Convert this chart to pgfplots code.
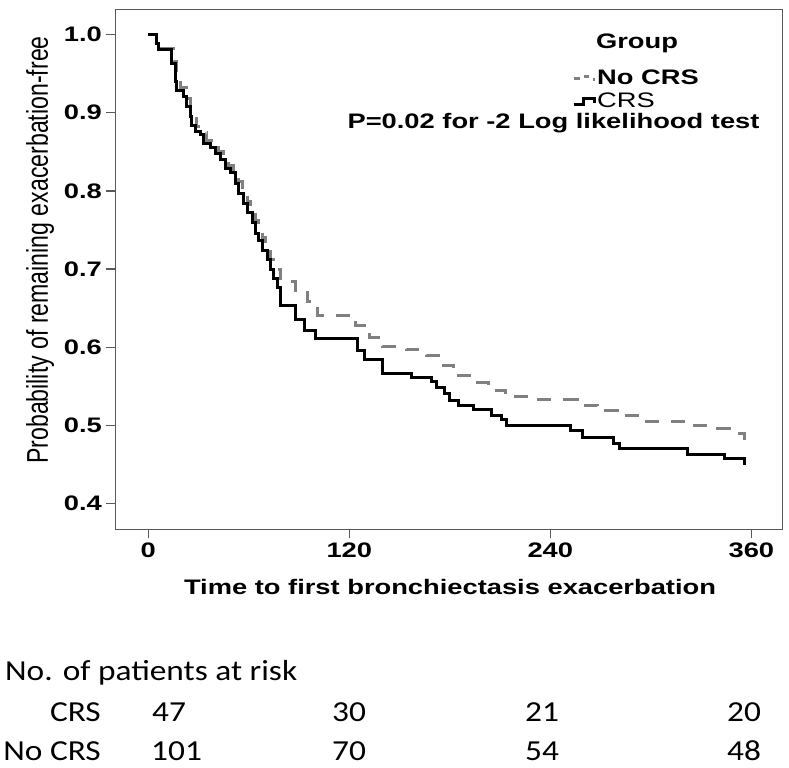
\documentclass[border=0pt]{standalone}
\usepackage{fontspec}
\setmainfont{Liberation Sans}[FakeStretch=1.3]
\newfontfamily\calib{Carlito}[FakeStretch=1.15]
\newfontfamily\ylabfont{Liberation Sans}[FakeStretch=0.77]
\usepackage{pgfplots}
\usepackage{pgfplotstable}
\pgfplotsset{compat=1.18}

\pgfplotstableread{
t S
0 1.000
5 0.989
6 0.981
14 0.963
16 0.940
17 0.929
21 0.921
23 0.908
25 0.895
26 0.884
28 0.876
31 0.872
33 0.861
37 0.855
40 0.848
43 0.840
46 0.829
49 0.823
52 0.810
54 0.797
57 0.784
59 0.773
62 0.759
64 0.746
66 0.737
68 0.724
71 0.712
73 0.699
75 0.688
77 0.677
79 0.654
88 0.635
93 0.622
100 0.611
125 0.596
129 0.584
140 0.567
157 0.561
169 0.556
172 0.549
177 0.541
180 0.532
185 0.526
194 0.520
205 0.512
211 0.507
214 0.500
252 0.494
259 0.485
278 0.477
281 0.471
322 0.463
344 0.457
356 0.451
357 0.451
}\crsdata

\pgfplotstableread{
t S
0 1.000
5 0.990
7 0.982
15 0.965
17 0.945
19 0.932
23 0.918
25 0.905
27 0.893
29 0.882
32 0.875
35 0.865
39 0.858
42 0.850
45 0.842
48 0.832
51 0.825
54 0.812
56 0.800
59 0.787
61 0.776
64 0.762
66 0.750
68 0.740
70 0.728
73 0.712
76 0.700
79 0.684
88 0.673
95 0.658
101 0.641
124 0.628
132 0.613
140 0.601
154 0.597
166 0.590
175 0.577
182 0.564
192 0.555
203 0.545
213 0.537
228 0.533
256 0.526
268 0.519
280 0.512
292 0.505
322 0.500
335 0.496
347 0.490
356 0.483
358 0.483
}\nocrsdata

\begin{document}
\begin{tikzpicture}[x=1bp,y=1bp]
\useasboundingbox (-115.4,-238.6) rectangle (673.6,529.4);
\begin{axis}[
  scale only axis, width=667.1bp, height=520.1bp,
  at={(0,0)}, anchor=south west,
  xmin=-19.6, xmax=378.6, ymin=0.3669, ymax=1.0324,
  xtick={0,120,240,360},
  ytick={0.4,0.5,0.6,0.7,0.8,0.9,1.0},
  yticklabel style={/pgf/number format/fixed,/pgf/number format/precision=1,/pgf/number format/fixed zerofill},
  /pgf/number format/assume math mode=true,
  axis line style={draw=black!65, line width=1.3bp},
  tick style={draw=black!65, line width=1.3bp},
  tick align=outside, major tick length=9bp,
  xtick pos=bottom, ytick pos=left,
  ticklabel style={font=\fontsize{21bp}{24bp}\selectfont\bfseries, text=black},
  xticklabel style={yshift=-1bp},
  yticklabel style={xshift=-1bp},
  clip=false,
  xlabel={Time to first bronchiectasis exacerbation},
  ylabel={Probability of remaining exacerbation-free},
  every axis x label/.style={at={([yshift=-57.6bp]rel axis cs:0.5016,0)}, anchor=center,
    font=\fontsize{21bp}{24bp}\selectfont\bfseries},
  every axis y label/.style={at={([xshift=-75.4bp]rel axis cs:0,0.5372)}, anchor=center, rotate=90,
    font=\ylabfont\fontsize{30bp}{34bp}\selectfont},
  legend style={draw=none, fill=none, at={(rel axis cs:0.6845,0.886)}, anchor=north west,
    inner sep=0pt, row sep=5bp, font=\fontsize{21bp}{24bp}\selectfont,
    nodes={inner sep=1bp}},
  legend cell align=left,
]
\addplot[const plot, color=black!50, line width=3bp, dash pattern=on 14bp off 12bp,
  legend image code/.code={\draw[black!50, line width=3bp] (0bp,-1bp) -- (6bp,-1bp);
    \draw[black!50, line width=3bp] (10bp,1bp) -- (15bp,1bp);
    \draw[black!50, line width=3bp] (19bp,-2bp) -- (21bp,-2bp);}]
  table[x=t, y=S] {\nocrsdata};
\addlegendentry{\textbf{No CRS}}
\addplot[const plot, color=black, line width=3bp,
  legend image code/.code={\draw[black, line width=3bp] (0bp,-3bp) -- (10bp,-3bp) -- (10bp,3bp) -- (21bp,3bp) -- (21bp,-2bp);}]
  table[x=t, y=S] {\crsdata};
\addlegendentry{CRS}
\end{axis}
\node[font=\fontsize{21bp}{24bp}\selectfont\bfseries] at (521.6,486.4) {Group};
\node[font=\fontsize{21bp}{24bp}\selectfont\bfseries] at (438.1,406.4) {P=0.02 for -2 Log likelihood test};
% risk table
\begin{scope}[every node/.style={font=\calib\fontsize{29bp}{34bp}\selectfont, inner sep=0pt}]
\node[anchor=base west] at (-110.4,-150.6) {No. of patients at risk};
\node[anchor=base east] at (-14.4,-192.3) {CRS};
\node[anchor=base east] at (-14.4,-231.3) {No CRS};
\node[anchor=base west] at (36.6,-192.3) {47};
\node[anchor=base west] at (216.6,-192.3) {30};
\node[anchor=base west] at (409.6,-192.3) {21};
\node[anchor=base west] at (611.6,-192.3) {20};
\node[anchor=base west] at (35.6,-231.3) {101};
\node[anchor=base west] at (216.6,-231.3) {70};
\node[anchor=base west] at (409.6,-231.3) {54};
\node[anchor=base west] at (611.6,-231.3) {48};
\end{scope}
\end{tikzpicture}
\end{document}
